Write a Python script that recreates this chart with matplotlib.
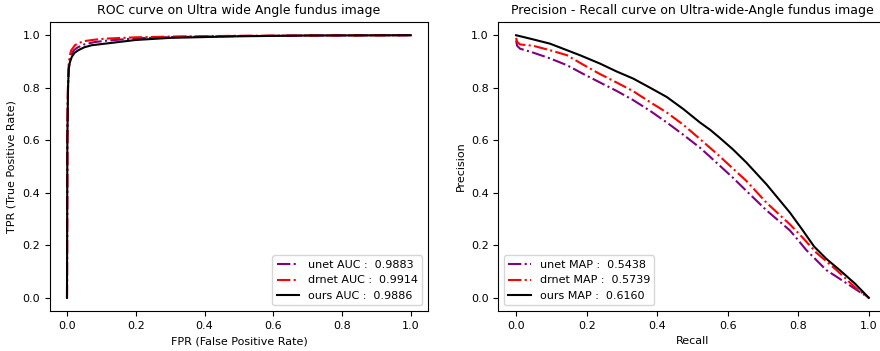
import matplotlib
matplotlib.use("Agg")
import matplotlib.pyplot as plt

# ROC data
roc_fpr_unet = [0, 0.001, 0.003, 0.005, 0.008, 0.012, 0.02, 0.03, 0.05, 0.08, 0.12, 0.2, 0.3, 0.5, 0.7, 1.0]
roc_tpr_unet = [0, 0.60, 0.80, 0.87, 0.905, 0.925, 0.943, 0.953, 0.965, 0.974, 0.980, 0.988, 0.993, 0.997, 0.999, 1.0]
roc_fpr_drnet = [0, 0.001, 0.003, 0.005, 0.008, 0.012, 0.023, 0.035, 0.052, 0.08, 0.11, 0.2, 0.3, 0.5, 0.7, 1.0]
roc_tpr_drnet = [0, 0.65, 0.83, 0.89, 0.922, 0.942, 0.962, 0.971, 0.978, 0.983, 0.987, 0.992, 0.995, 0.998, 0.999, 1.0]
roc_fpr_ours = [0, 0.001, 0.003, 0.005, 0.008, 0.014, 0.022, 0.033, 0.05, 0.072, 0.13, 0.2, 0.3, 0.5, 0.7, 1.0]
roc_tpr_ours = [0, 0.60, 0.80, 0.87, 0.895, 0.918, 0.933, 0.943, 0.954, 0.962, 0.971, 0.982, 0.990, 0.996, 0.999, 1.0]

# PR data
pr_rec_unet = [0, 0.003, 0.011, 0.048, 0.096, 0.144, 0.19, 0.238, 0.285, 0.332, 0.38, 0.427, 0.475,
               0.521, 0.55, 0.615, 0.653, 0.71, 0.776, 0.795, 0.822, 0.851, 0.879, 0.918, 0.96, 1.0]
pr_prec_unet = [0.98, 0.96, 0.949, 0.934, 0.912, 0.886, 0.853, 0.820, 0.788, 0.753, 0.712, 0.668, 0.620,
                0.572, 0.537, 0.457, 0.407, 0.333, 0.257, 0.227, 0.183, 0.144, 0.106, 0.072, 0.035, 0.0]
pr_rec_drnet = [0, 0.003, 0.011, 0.048, 0.096, 0.144, 0.19, 0.238, 0.285, 0.332, 0.38, 0.427, 0.475,
                0.521, 0.573, 0.615, 0.653, 0.71, 0.776, 0.805, 0.851, 0.908, 0.965, 1.0]
pr_prec_drnet = [0.99, 0.975, 0.965, 0.960, 0.943, 0.924, 0.888, 0.852, 0.820, 0.787, 0.745, 0.706, 0.658,
                 0.605, 0.544, 0.492, 0.445, 0.362, 0.280, 0.240, 0.172, 0.106, 0.035, 0.0]
pr_rec_ours = [0, 0.04, 0.096, 0.181, 0.238, 0.285, 0.332, 0.38, 0.427, 0.475, 0.521, 0.55, 0.575,
               0.615, 0.653, 0.71, 0.776, 0.81, 0.845, 0.88, 0.918, 0.96, 1.0]
pr_prec_ours = [1.0, 0.987, 0.968, 0.924, 0.892, 0.862, 0.835, 0.800, 0.765, 0.718, 0.668, 0.640, 0.612,
                0.565, 0.515, 0.432, 0.325, 0.262, 0.195, 0.148, 0.105, 0.055, 0.0]

auc_labels = ["unet AUC :  0.9883", "drnet AUC :  0.9914", "ours AUC :  0.9886"]
map_labels = ["unet MAP :  0.5438", "drnet MAP :  0.5739", "ours MAP :  0.6160"]

fig = plt.figure(figsize=(8.8, 3.51), dpi=100)
ax1 = fig.add_axes([0.0566, 0.114, 0.4298, 0.823])
ax2 = fig.add_axes([0.5664, 0.114, 0.441, 0.823])

ax1.plot(roc_fpr_unet, roc_tpr_unet, color="purple", linestyle="-.", lw=1.5, label=auc_labels[0])
ax1.plot(roc_fpr_drnet, roc_tpr_drnet, color="red", linestyle="-.", lw=1.5, label=auc_labels[1])
ax1.plot(roc_fpr_ours, roc_tpr_ours, color="black", linestyle="-", lw=1.5, label=auc_labels[2])
ax1.set_title("ROC curve on Ultra wide Angle fundus image", fontsize=9)
ax1.set_xlabel("FPR (False Positive Rate)", fontsize=8)
ax1.set_ylabel("TPR (True Positive Rate)", fontsize=8)
ax1.tick_params(labelsize=8)
ax1.legend(loc="lower right", fontsize=8)

ax2.plot(pr_rec_unet, pr_prec_unet, color="purple", linestyle="-.", lw=1.5, label=map_labels[0])
ax2.plot(pr_rec_drnet, pr_prec_drnet, color="red", linestyle="-.", lw=1.5, label=map_labels[1])
ax2.plot(pr_rec_ours, pr_prec_ours, color="black", linestyle="-", lw=1.5, label=map_labels[2])
ax2.set_title("Precision - Recall curve on Ultra-wide-Angle fundus image", fontsize=9)
ax2.set_xlabel("Recall", fontsize=8)
ax2.set_ylabel("Precision", fontsize=8)
ax2.tick_params(labelsize=8)
ax2.legend(loc="lower left", fontsize=8)

fig.savefig("out.png", dpi=100)
